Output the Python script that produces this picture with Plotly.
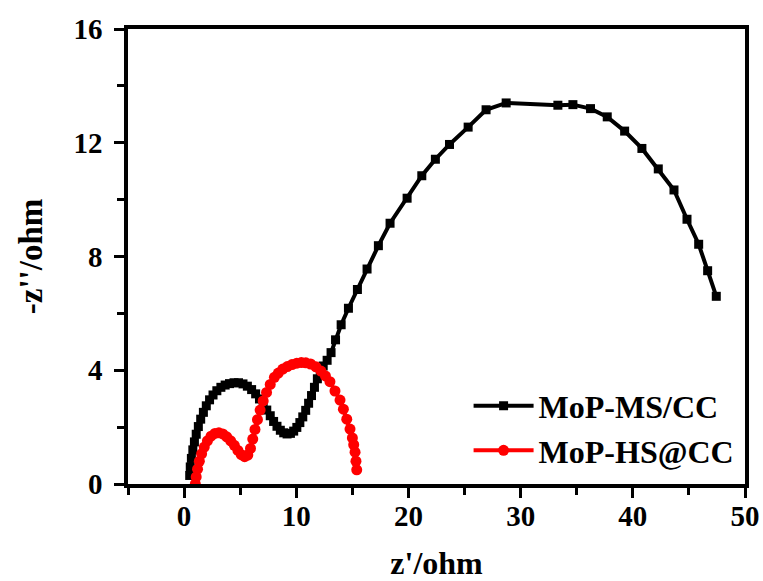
import plotly.graph_objects as go

# MoP-MS/CC (black squares)
ms_x = [0.50, 0.55, 0.65, 0.78, 0.92, 1.08, 1.27, 1.48, 1.72, 1.98, 2.27, 2.58, 2.92, 3.28,
        3.66, 4.05, 4.45, 4.85, 5.25, 5.64, 6.02, 6.38, 6.72, 7.05, 7.37, 7.68, 7.98, 8.28,
        8.58, 8.88, 9.18, 9.48, 9.77, 10.05, 10.32, 10.58, 10.84, 11.10, 11.36, 11.62, 11.88,
        12.14, 12.40, 12.75, 13.10, 13.50, 14.00, 14.65, 15.45, 16.31, 17.32, 18.36, 19.88,
        21.19, 22.40, 23.66, 25.32, 26.92, 28.71, 33.32, 34.66, 36.23, 37.72, 39.27, 40.81,
        42.27, 43.67, 44.83, 45.87, 46.67, 47.44]
ms_y = [0.30, 0.60, 0.90, 1.20, 1.48, 1.75, 2.02, 2.28, 2.52, 2.75, 2.96, 3.13, 3.28, 3.40,
        3.48, 3.53, 3.56, 3.56, 3.52, 3.44, 3.32, 3.17, 2.99, 2.80, 2.60, 2.40, 2.20, 2.03,
        1.89, 1.80, 1.76, 1.78, 1.86, 1.99, 2.16, 2.36, 2.59, 2.84, 3.11, 3.40, 3.70,
        4.00, 4.15, 4.35, 4.62, 5.07, 5.60, 6.18, 6.84, 7.56, 8.38, 9.17, 10.05,
        10.84, 11.42, 11.94, 12.55, 13.16, 13.40, 13.32, 13.34, 13.20, 12.91, 12.41, 11.80,
        11.08, 10.34, 9.31, 8.43, 7.50, 6.60]

# MoP-HS@CC (red circles)
hs_x = [1.00, 1.08, 1.20, 1.36, 1.56, 1.80, 2.08, 2.40, 2.75, 3.10, 3.45, 3.80, 4.15, 4.48,
        4.80, 5.10, 5.40, 5.68, 5.92, 6.12, 6.32, 6.54, 6.78, 7.05, 7.35, 7.68, 8.05, 8.40,
        8.80, 9.20, 9.62, 10.05, 10.45, 10.85, 11.28, 11.75, 12.20, 12.60, 13.00, 13.45,
        13.90, 14.20, 14.50, 14.79, 15.00, 15.12, 15.24, 15.32, 15.39]
hs_y = [0.00, 0.25, 0.52, 0.80, 1.06, 1.30, 1.52, 1.68, 1.78, 1.80, 1.76, 1.66, 1.52, 1.36,
        1.18, 1.03, 0.96, 1.02, 1.25, 1.58, 1.92, 2.26, 2.60, 2.92, 3.22, 3.50, 3.75, 3.90,
        4.04, 4.13, 4.20, 4.25, 4.27, 4.26, 4.22, 4.12, 3.97, 3.80, 3.60, 3.27,
        2.95, 2.63, 2.28, 1.93, 1.62, 1.38, 1.12, 0.80, 0.50]

font_family = "Liberation Serif"

fig = go.Figure()
fig.add_trace(go.Scatter(
    x=ms_x, y=ms_y, mode="lines+markers", name="<b>MoP-MS/CC</b>",
    line=dict(color="black", width=4),
    marker=dict(symbol="square", size=9, color="black"),
))
fig.add_trace(go.Scatter(
    x=hs_x, y=hs_y, mode="lines+markers", name="<b>MoP-HS@CC</b>",
    line=dict(color="#ff0000", width=4),
    marker=dict(symbol="circle", size=11, color="#ff0000"),
))

axis_common = dict(
    showline=True, linecolor="black", linewidth=3.5, mirror=True,
    ticks="outside", ticklen=10, tickwidth=3, tickcolor="black",
    showgrid=False, zeroline=False, automargin=False,
    tickfont=dict(family=font_family, size=29, color="black", weight="bold"),
)

fig.update_xaxes(
    range=[-5, 50], tickmode="linear", tick0=0, dtick=10,
    minor=dict(ticks="outside", ticklen=7, tickwidth=3, tickcolor="black", dtick=5, tick0=0),
    title=dict(text="<b>z'/ohm</b>", font=dict(family=font_family, size=32, color="black"), standoff=40),
    ticklabelstandoff=-7,
    **axis_common,
)
fig.update_yaxes(
    range=[0, 16], tickmode="linear", tick0=0, dtick=4,
    minor=dict(ticks="outside", ticklen=7, tickwidth=3, tickcolor="black", dtick=2, tick0=0),
    title=dict(text="<b>-z''/ohm</b>", font=dict(family=font_family, size=33, color="black"), standoff=22),
    ticklabelstandoff=6,
    **axis_common,
)

fig.update_layout(
    width=763, height=581,
    margin=dict(l=128, r=18, t=29, b=97),
    plot_bgcolor="white", paper_bgcolor="white",
    showlegend=True,
    legend=dict(
        x=0.552, y=0.232, xanchor="left", yanchor="top",
        bgcolor="rgba(0,0,0,0)", borderwidth=0,
        font=dict(family=font_family, size=32, color="black"),
        itemwidth=60, tracegroupgap=0,
    ),
)

fig.write_html("out.html")
